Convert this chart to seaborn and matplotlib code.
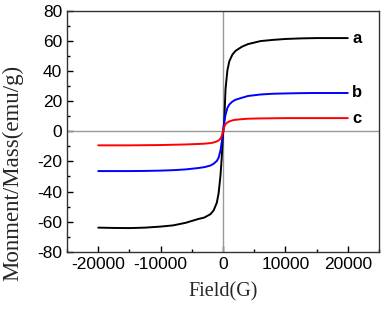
import matplotlib
matplotlib.use("Agg")
import matplotlib.pyplot as plt
import seaborn as sns
import pandas as pd
from matplotlib.ticker import MultipleLocator

field = [-20000, -17500, -15000, -12500, -10000, -8000, -6000, -4000, -3000, -2000, -1500,
         -1000, -700, -400, -200, 0, 200, 400, 700, 1000, 1500, 2000, 3000, 4000, 6000,
         8000, 10000, 12500, 15000, 17500, 20000]
a_vals = [-64.0, -64.2, -64.3, -64.0, -63.3, -62.5, -60.8, -58.3, -57.3, -55.0, -52.5,
          -47.5, -41.0, -29.0, -17.0, -2.0, 7.0, 28.0, 40.5, 46.5, 51.0, 53.5, 56.2, 58.0, 60.0,
          60.8, 61.4, 61.8, 62.0, 62.0, 62.0]
b_vals = [-26.4, -26.4, -26.4, -26.3, -26.1, -25.8, -25.3, -24.4, -23.8, -22.7, -21.5,
          -19.7, -17.5, -12.5, -7.0, -0.5, 6.0, 11.0, 15.5, 17.8, 19.8, 21.0, 22.3, 23.5, 24.5,
          25.0, 25.2, 25.4, 25.5, 25.5, 25.5]
c_vals = [-9.3, -9.3, -9.3, -9.2, -9.1, -8.9, -8.7, -8.4, -8.2, -7.8, -7.4,
          -6.7, -6.0, -4.8, -3.0, 0.0, 3.0, 4.8, 5.9, 6.6, 7.3, 7.7, 8.1, 8.4, 8.6,
          8.7, 8.8, 8.8, 8.8, 8.8, 8.8]
series_names = ["a", "b", "c"]
series_colors = ["#000000", "#0000ff", "#ff0000"]

df = pd.concat([
    pd.DataFrame({"Field": field, "M": vals, "sample": name})
    for name, vals in zip(series_names, [a_vals, b_vals, c_vals])
])

sns.set_theme(style="ticks")
plt.rcParams["font.family"] = ["Liberation Sans", "DejaVu Sans"]
plt.rcParams["axes.unicode_minus"] = False

fig = plt.figure(figsize=(3.83, 3.09), dpi=100)
ax = fig.add_axes([0.175, 0.1854, 0.8146, 0.779])

ax.axhline(0, color="#999999", lw=1.0, zorder=1)
ax.axvline(0, color="#999999", lw=1.0, zorder=1)

sns.lineplot(data=df, x="Field", y="M", hue="sample", palette=series_colors,
             hue_order=series_names, linewidth=1.4, legend=False, ax=ax, zorder=3,
             sort=True, estimator=None)

for name, vals in zip(series_names, [a_vals, b_vals, c_vals]):
    ax.text(field[-1] + 700, vals[-1], name, fontsize=12, fontweight="bold",
            ha="left", va="center", color="black")

ax.set_xlim(-25000, 25000)
ax.set_ylim(-80, 80)
ax.xaxis.set_major_locator(MultipleLocator(10000))
ax.xaxis.set_minor_locator(MultipleLocator(5000))
ax.yaxis.set_major_locator(MultipleLocator(20))
ax.yaxis.set_minor_locator(MultipleLocator(10))
ax.tick_params(which="both", direction="in", top=False, right=False, colors="black",
               labelsize=12.5, width=1.0)
ax.tick_params(which="major", length=4)
ax.tick_params(which="minor", length=2.5)
for s in ax.spines.values():
    s.set_color("#333333")
    s.set_linewidth(1.0)

ax.set_xlabel("Field(G)", fontsize=14.5, family=["Liberation Serif"], labelpad=8)
ax.set_ylabel("Monment/Mass(emu/g)", fontsize=16.5, family=["Liberation Serif"],
              va="center")
ax.yaxis.set_label_coords(-0.173, 0.327)

fig.savefig("out.png", dpi=100)
